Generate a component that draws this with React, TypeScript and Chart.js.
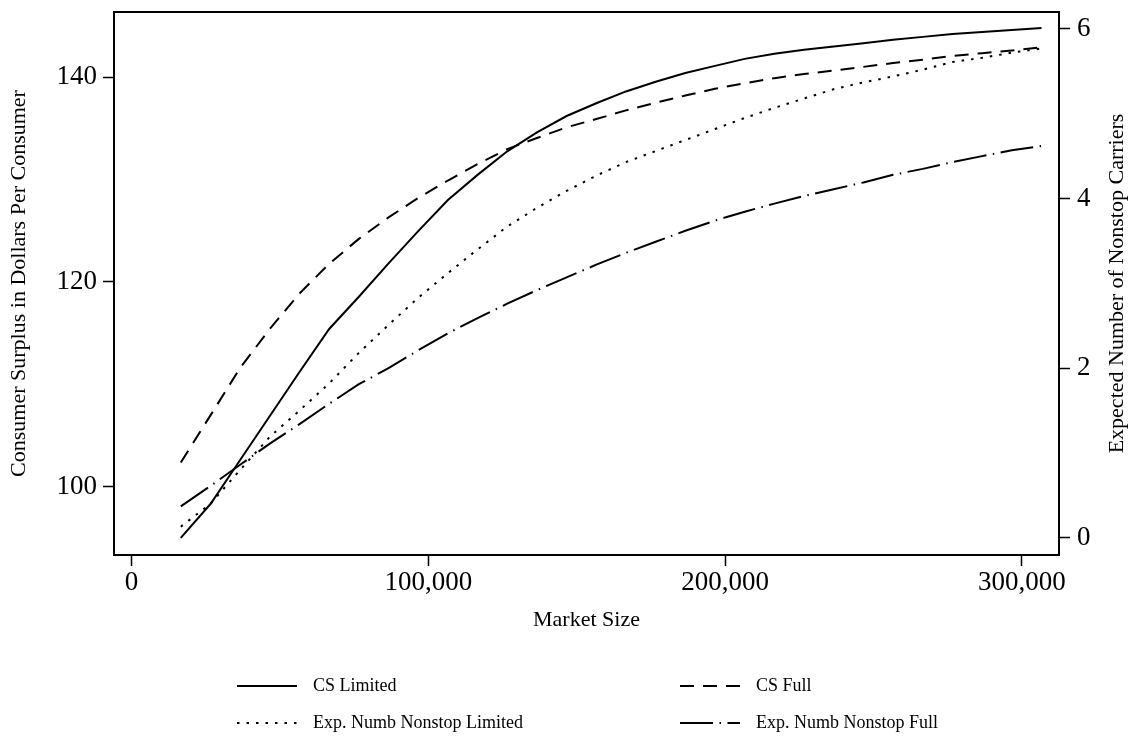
import React, { useEffect, useRef } from "react";
import { Chart, registerables } from "chart.js";

Chart.register(...registerables);

// ---- Data ----
const marketSize = [
  16600, 26600, 36600, 46600, 56600, 66600, 76600, 86600, 96600, 106600,
  116600, 126600, 136600, 146600, 156600, 166600, 176600, 186600, 196600, 206600,
  216600, 226600, 236600, 246600, 256600, 266600, 276600, 286600, 296600, 306600,
];

// Consumer surplus (left axis)
const csLimited = [
  95.0, 98.3, 102.6, 106.9, 111.2, 115.4, 118.55, 121.8, 124.95, 128.0,
  130.45, 132.75, 134.6, 136.2, 137.45, 138.6, 139.55, 140.4, 141.1, 141.78,
  142.29, 142.68, 142.99, 143.3, 143.65, 143.93, 144.2, 144.4, 144.6, 144.8,
];
const csFull = [
  102.35, 106.96, 111.6, 115.4, 118.87, 121.77, 124.2, 126.3, 128.2, 129.9,
  131.5, 132.97, 134.05, 135.1, 135.9, 136.75, 137.5, 138.2, 138.87, 139.4,
  139.9, 140.3, 140.65, 141.0, 141.37, 141.7, 142.06, 142.34, 142.6, 142.9,
];

// Expected number of nonstop carriers (right axis)
const expNonstopLimited = [
  0.13, 0.4, 0.8, 1.19, 1.5, 1.82, 2.18, 2.51, 2.83, 3.12,
  3.4, 3.67, 3.89, 4.09, 4.27, 4.43, 4.56, 4.69, 4.82, 4.95,
  5.07, 5.18, 5.29, 5.37, 5.44, 5.52, 5.61, 5.66, 5.72, 5.77,
];
const expNonstopFull = [
  0.37, 0.61, 0.86, 1.11, 1.34, 1.58, 1.81, 2.0, 2.21, 2.41,
  2.59, 2.76, 2.92, 3.07, 3.22, 3.36, 3.49, 3.62, 3.74, 3.845,
  3.94, 4.03, 4.11, 4.19, 4.28, 4.35, 4.43, 4.5, 4.57, 4.62,
];

const seriesLabels = [
  "CS Limited",
  "CS Full",
  "Exp. Numb Nonstop Limited",
  "Exp. Numb Nonstop Full",
];

const xTickValues = [0, 100000, 200000, 300000];
const xTickLabels = ["0", "100,000", "200,000", "300,000"];
const leftTickValues = [100, 120, 140];
const rightTickValues = [0, 2, 4, 6];

const xTitle = "Market Size";
const leftTitle = "Consumer Surplus in Dollars Per Consumer";
const rightTitle = "Expected Number of Nonstop Carriers";

const FONT = '"Liberation Serif", "Times New Roman", serif';

const framePlugin = {
  id: "frameAndLegend",
  afterDraw(chart: any) {
    const { ctx, chartArea } = chart;
    ctx.save();
    // plot frame
    ctx.setLineDash([]);
    ctx.lineWidth = 2;
    ctx.strokeStyle = "#000";
    ctx.strokeRect(
      chartArea.left,
      chartArea.top,
      chartArea.right - chartArea.left,
      chartArea.bottom - chartArea.top
    );

    // right axis title, reading bottom-to-top
    ctx.save();
    ctx.translate(1117, (chartArea.top + chartArea.bottom) / 2);
    ctx.rotate(-Math.PI / 2);
    ctx.fillStyle = "#000";
    ctx.font = `22px ${FONT}`;
    ctx.textAlign = "center";
    ctx.textBaseline = "middle";
    ctx.fillText(rightTitle, 0, 0);
    ctx.restore();

    // legend (2 columns)
    const colX = [237, 680];
    const rowY = [686, 723];
    chart.data.datasets.forEach((ds: any, i: number) => {
      const x0 = colX[i % 2];
      const y = rowY[Math.floor(i / 2)];
      ctx.beginPath();
      ctx.lineWidth = ds.borderWidth;
      ctx.strokeStyle = ds.borderColor;
      ctx.lineCap = "butt";
      ctx.setLineDash(ds.borderDash || []);
      ctx.moveTo(x0, y);
      ctx.lineTo(x0 + 60, y);
      ctx.stroke();
      ctx.setLineDash([]);
      ctx.fillStyle = "#000";
      ctx.font = `18px ${FONT}`;
      ctx.textBaseline = "middle";
      ctx.textAlign = "left";
      ctx.fillText(ds.label, x0 + 76, y);
    });
    ctx.restore();
  },
};

export default function App() {
  const canvasRef = useRef<HTMLCanvasElement | null>(null);

  useEffect(() => {
    const canvas = canvasRef.current;
    if (!canvas) return;

    const toPoints = (ys: number[]) => marketSize.map((x, i) => ({ x, y: ys[i] }));

    const lineBase = {
      borderColor: "#000",
      backgroundColor: "#000",
      borderWidth: 2,
      pointRadius: 0,
      pointHoverRadius: 0,
      tension: 0,
      fill: false,
      borderCapStyle: "butt" as const,
    };

    const tickGrid = {
      display: true,
      drawOnChartArea: false,
      drawTicks: true,
      tickLength: 11,
      tickWidth: 1.5,
      tickColor: "#000",
    };

    const chart = new Chart(canvas, {
      type: "line",
      data: {
        datasets: [
          { ...lineBase, label: seriesLabels[0], data: toPoints(csLimited), yAxisID: "yL", borderDash: [] },
          { ...lineBase, label: seriesLabels[1], data: toPoints(csFull), yAxisID: "yL", borderDash: [14, 9] },
          { ...lineBase, label: seriesLabels[2], data: toPoints(expNonstopLimited), yAxisID: "yR", borderDash: [2.5, 7] },
          { ...lineBase, label: seriesLabels[3], data: toPoints(expNonstopFull), yAxisID: "yR", borderDash: [33, 6.5, 1.5, 6.5] },
        ],
      },
      options: {
        responsive: false,
        animation: false,
        devicePixelRatio: 1,
        layout: { padding: { top: 12, left: 0, right: 0, bottom: 0 } },
        plugins: {
          legend: { display: false },
          tooltip: { enabled: false },
          title: { display: false },
        },
        scales: {
          x: {
            type: "linear",
            position: "bottom",
            min: -5900,
            max: 312500,
            afterBuildTicks: (s: any) => {
              s.ticks = xTickValues.map((v) => ({ value: v }));
            },
            afterFit: (s: any) => {
              s.height = 185;
              s.paddingLeft = 0;
              s.paddingRight = 0;
            },
            ticks: {
              autoSkip: false,
              maxRotation: 0,
              minRotation: 0,
              padding: 1,
              color: "#000",
              font: { family: FONT, size: 27 },
              callback: (v: any) => {
                const i = xTickValues.indexOf(Number(v));
                return i >= 0 ? xTickLabels[i] : "";
              },
            },
            grid: tickGrid,
            border: { display: false },
            title: {
              display: true,
              text: xTitle,
              color: "#000",
              font: { family: FONT, size: 22 },
              padding: { top: 0, bottom: 107 },
            },
          },
          yL: {
            type: "linear",
            position: "left",
            min: 93.32,
            max: 146.36,
            afterBuildTicks: (s: any) => {
              s.ticks = leftTickValues.map((v) => ({ value: v }));
            },
            afterFit: (s: any) => {
              s.width = 114;
              s.paddingTop = 0;
              s.paddingBottom = 0;
            },
            ticks: {
              autoSkip: false,
              padding: 6,
              color: "#000",
              font: { family: FONT, size: 27 },
              callback: (v: any) => String(v),
            },
            grid: tickGrid,
            border: { display: false },
            title: {
              display: true,
              text: leftTitle,
              color: "#000",
              font: { family: FONT, size: 22 },
              padding: { top: 6, bottom: 0 },
            },
          },
          yR: {
            type: "linear",
            position: "right",
            min: -0.204,
            max: 6.2,
            afterBuildTicks: (s: any) => {
              s.ticks = rightTickValues.map((v) => ({ value: v }));
            },
            afterFit: (s: any) => {
              s.width = 73;
              s.paddingTop = 0;
              s.paddingBottom = 0;
            },
            ticks: {
              autoSkip: false,
              padding: 7,
              color: "#000",
              font: { family: FONT, size: 27 },
              callback: (v: any) => String(v),
            },
            grid: tickGrid,
            border: { display: false },
            title: { display: false },
          },
        },
      },
      plugins: [framePlugin],
    });

    return () => chart.destroy();
  }, []);

  return (
    <div
      style={{
        position: "absolute",
        left: 0,
        top: 0,
        width: 1132,
        height: 740,
        background: "#fff",
      }}
    >
      <canvas ref={canvasRef} width={1132} height={740} style={{ display: "block" }} />
    </div>
  );
}
